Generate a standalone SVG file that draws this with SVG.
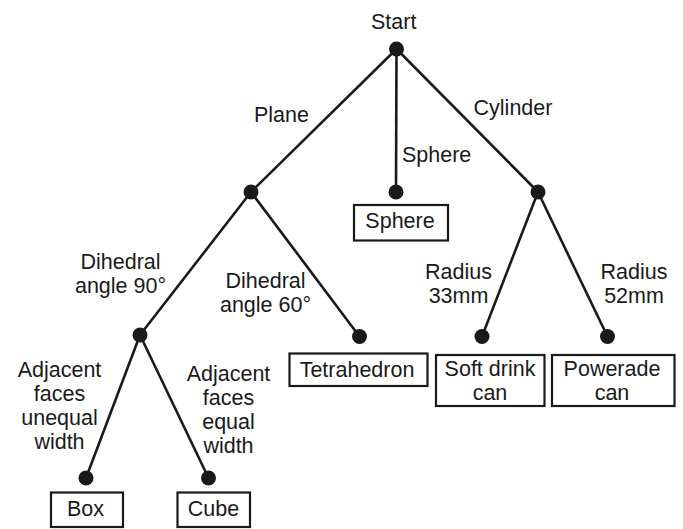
<svg xmlns="http://www.w3.org/2000/svg" width="683" height="529" viewBox="0 0 683 529">
<style>
text{font-family:"Liberation Sans",Arial,sans-serif;font-size:21.5px;fill:#1a1a1a;text-anchor:middle}
.l{text-anchor:start}
.e{stroke:#1a1a1a;stroke-width:2.6;fill:none}
.d{fill:#1a1a1a}
.b{fill:#fff;stroke:#1a1a1a;stroke-width:2.2}
</style>
<rect width="683" height="529" fill="#fff"/>
<g id="connectors">
<line class="e" x1="396.5" y1="49" x2="251" y2="192"/>
<line class="e" x1="396.5" y1="49" x2="396" y2="192"/>
<line class="e" x1="396.5" y1="49" x2="538" y2="192"/>
<line class="e" x1="251" y1="192" x2="140" y2="335"/>
<line class="e" x1="251" y1="192" x2="359.5" y2="336.5"/>
<line class="e" x1="140" y1="335" x2="86" y2="478"/>
<line class="e" x1="140" y1="335" x2="208.5" y2="478"/>
<line class="e" x1="538" y1="192" x2="482" y2="336.5"/>
<line class="e" x1="538" y1="192" x2="607.5" y2="336.5"/>
</g>
<g id="edge-labels">
<text x="281.5" y="122">Plane</text>
<text class="l" x="402" y="162">Sphere</text>
<text x="513" y="115">Cylinder</text>
<text x="120.5" y="268.75">Dihedral</text>
<text x="120.5" y="292.75">angle 90°</text>
<text x="265.5" y="288">Dihedral</text>
<text x="265.5" y="312">angle 60°</text>
<text x="59.5" y="376.75">Adjacent</text>
<text x="59.5" y="400.75">faces</text>
<text x="59.5" y="424.75">unequal</text>
<text x="59.5" y="448.75">width</text>
<text x="228.5" y="380.75">Adjacent</text>
<text x="228.5" y="404.75">faces</text>
<text x="228.5" y="428.75">equal</text>
<text x="228.5" y="452.75">width</text>
<text x="458.5" y="279.25">Radius</text>
<text x="458.5" y="303.25">33mm</text>
<text x="634" y="279.25">Radius</text>
<text x="634" y="303.25">52mm</text>
</g>
<g id="start"><text x="393.7" y="28.5">Start</text><circle class="d" cx="396.5" cy="49" r="7.5"/></g>
<g id="plane"><circle class="d" cx="251" cy="192" r="7.5"/></g>
<g id="sphere"><circle class="d" cx="396" cy="192" r="7.5"/><rect class="b" x="354" y="205" width="94" height="35.5"/><text x="400" y="227.7">Sphere</text></g>
<g id="cylinder"><circle class="d" cx="538" cy="192" r="7.5"/></g>
<g id="dihedral90"><circle class="d" cx="140" cy="335" r="7.5"/></g>
<g id="tetrahedron"><circle class="d" cx="359.5" cy="336.5" r="7.5"/><rect class="b" x="289.5" y="353.5" width="138" height="32.5"/><text x="357" y="377.3">Tetrahedron</text></g>
<g id="softdrink"><circle class="d" cx="482" cy="336.5" r="7.5"/><rect class="b" x="436" y="355" width="108.5" height="51"/><text x="490" y="376.3">Soft drink</text><text x="490" y="400.3">can</text></g>
<g id="powerade"><circle class="d" cx="607.5" cy="336.5" r="7.5"/><rect class="b" x="552" y="355" width="122.5" height="51"/><text x="612" y="375.5">Powerade</text><text x="612" y="399.5">can</text></g>
<g id="box"><circle class="d" cx="86" cy="478" r="7.5"/><rect class="b" x="51" y="492.5" width="72" height="34.5"/><text x="85.5" y="516">Box</text></g>
<g id="cube"><circle class="d" cx="208.5" cy="478" r="7.5"/><rect class="b" x="177.5" y="492.5" width="72.5" height="34.5"/><text x="213.5" y="516">Cube</text></g>
</svg>
